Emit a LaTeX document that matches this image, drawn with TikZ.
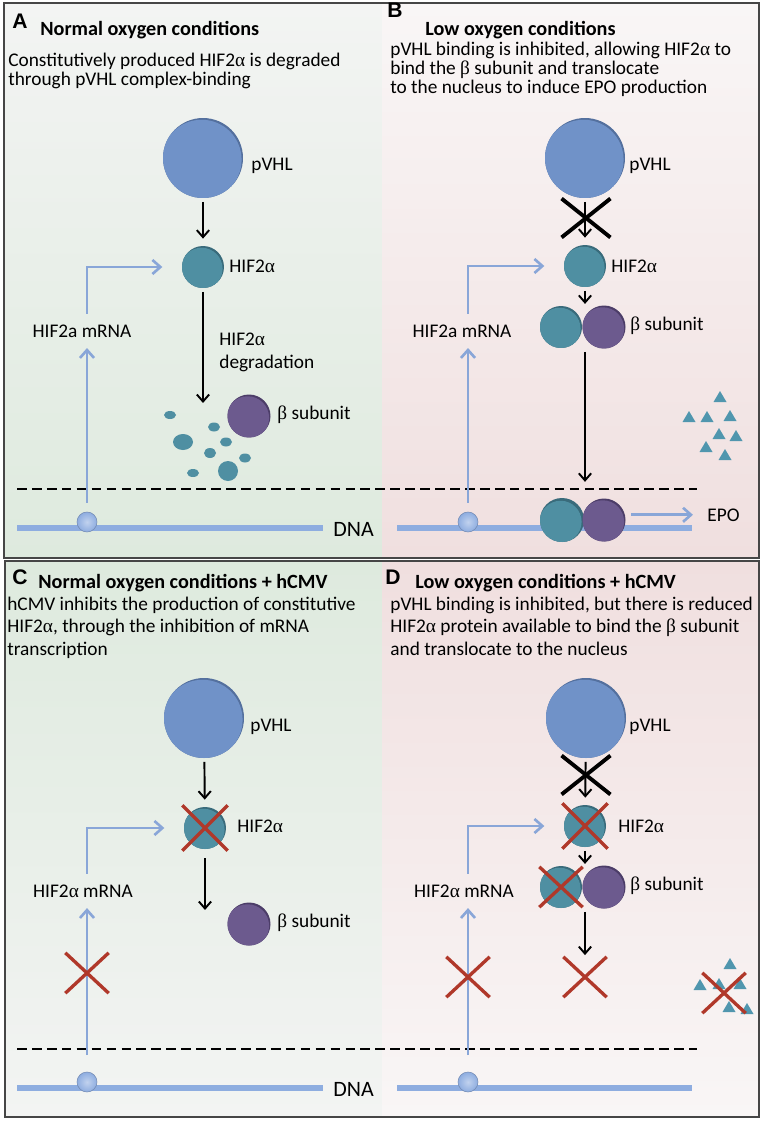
\documentclass[tikz,border=0pt]{standalone}
\usepackage{fontspec}
\setmainfont{Carlito}
\newfontfamily\panelfont{Liberation Sans}
\newfontfamily\greekfont{Liberation Serif}
\usepackage{tikz}
\usetikzlibrary{arrows.meta, positioning, calc, shapes.misc}
\newcommand{\galpha}{{\greekfont α}}
\newcommand{\gbeta}{{\greekfont β}}
\definecolor{pvhlblue}{HTML}{7092C8}
\definecolor{pvhledge}{HTML}{54709E}
\definecolor{hifteal}{HTML}{4F8FA2}
\definecolor{hifedge}{HTML}{396B7B}
\definecolor{betapurple}{HTML}{6C5A8E}
\definecolor{betaedge}{HTML}{4C3D68}
\definecolor{mrnablue}{HTML}{89A6D8}
\definecolor{dnablue}{HTML}{8EADE0}
\definecolor{knockred}{HTML}{B0382A}
\definecolor{epoteal}{HTML}{5096AE}
\definecolor{greentop}{RGB}{243,244,243}
\definecolor{greenbot}{RGB}{222,234,222}
\definecolor{pinktop}{RGB}{249,246,246}
\definecolor{pinkbot}{RGB}{240,223,223}
\definecolor{framegrey}{RGB}{70,70,70}

\begin{document}
\begin{tikzpicture}[x=0.02cm, y=-0.02cm,
    ball/.style n args={3}{circle, inner sep=0pt, minimum size=#1, fill=#3,
      path picture={\fill[#2] ([shift={(-0.8pt,-1pt)}]path picture bounding box.center) circle [radius=0.5*#1];}},
    pvhl/.style={ball={1.6cm}{pvhlblue}{pvhledge}},
    hif/.style={ball={0.84cm}{hifteal}{hifedge}},
    beta/.style={ball={0.86cm}{betapurple}{betaedge}},
    promoter/.style={circle, inner sep=0pt, minimum size=0.4cm, draw=dnablue!80!black, line width=0.3pt,
      inner color=dnablue!55!white, outer color=dnablue},
    letter/.style={font=\panelfont\bfseries\fontsize{12}{12}\selectfont, inner sep=0pt, anchor=base west},
    title/.style={font=\bfseries\fontsize{11.5}{13}\selectfont, inner sep=0pt, anchor=base west},
    body/.style={font=\fontsize{11}{11}\selectfont, align=left, inner sep=0pt, anchor=base west},
    bodywide/.style={body, font=\fontsize{11}{12.7}\selectfont},
    tag/.style={font=\fontsize{11}{13}\selectfont, inner sep=0pt, anchor=base west},
    bigtag/.style={tag, font=\fontsize{12.5}{14}\selectfont},
    mrnatag/.style={tag, anchor=base, inner ysep=6pt},
    blackarrow/.style={line width=1.1pt, -{Straight Barb[length=4pt, width=7pt]}, shorten <=2pt, shorten >=4pt},
    mrnaline/.style={mrnablue, line width=1.5pt},
    mrnaarrow/.style={mrnaline, -{Straight Barb[length=4.5pt, width=8pt]}},
    dnaline/.style={dnablue, line width=3.5pt},
    envelope/.style={line width=1.5pt, dash pattern=on 5.5pt off 3pt},
    blockx/.style={cross out, draw=black, line width=2.2pt, inner sep=0pt, minimum width=0.9cm, minimum height=0.7cm},
    redx/.style={cross out, draw=knockred, line width=1.9pt, inner sep=0pt, minimum width=0.8cm, minimum height=0.74cm},
    panelframe/.style={draw=framegrey, line width=0.8pt}]

  \useasboundingbox (0,0) rectangle (764,1125);
  \fill[white] (0,0) rectangle (764,1125);

  % panel backgrounds
  \shade[top color=greentop, bottom color=greenbot] (4,3) rectangle (382,558);
  \shade[top color=pinktop, bottom color=pinkbot] (382,3) rectangle (759,558);
  \shade[top color=greenbot, bottom color=greentop] (5,561) rectangle (382,1117);
  \shade[top color=pinkbot, bottom color=pinktop] (382,561) rectangle (759,1117);
  \draw[panelframe] (4,3) rectangle (759,558);
  \draw[panelframe] (5,561) rectangle (759,1117);

  % nuclear envelope
  \draw[envelope] (17,489) -- (697,489);
  \draw[envelope] (17,1049) -- (697,1049);

  % ---------- A ----------
  \node[letter] (letA) at (12,29) {A};
  \node[title] (titA) at (40,36) {Normal oxygen conditions};
  \node[body] (txtA) at (8,86) {Constitutively produced HIF2\galpha{} is degraded\\through pVHL complex-binding};
  \node[pvhl] (pvhlA) at (203,158) {};
  \node[tag] (pvhlAl) at (251,171) {pVHL};
  \node[hif] (hifA) at (203,267) {};
  \node[tag] (hifAl) at (229,272) {HIF2\galpha};
  \draw[blackarrow] (pvhlA) -- (hifA);
  \coordinate (degA) at (203,410);
  \draw[blackarrow] (hifA) -- (degA);
  \node[tag, align=left] (degAl) at (219,368) {HIF2\galpha\\degradation};
  \node[beta] (betaA) at (249,416) {};
  \node[tag] (betaAl) at (277,419) {\gbeta{} subunit};
  % degraded fragments
  \foreach \x/\y/\rx/\ry in {170/415/6/4, 214/427/6/4.5, 183/442/10/8, 226/442/6/4.5,
      210/453/6/5, 245/458/6/4.5, 193/473/6/4, 228/471/10/10}
    \fill[hifteal] (\x,\y) ellipse [x radius=\rx, y radius=\ry];
  \draw[dnaline] (17,528) -- (323,528);
  \node[promoter] (prA) at (87,522) {};
  \node[bigtag] (dnaA) at (333,536) {DNA};
  \node[mrnatag] (mrnaA) at (82,337) {HIF2a mRNA};
  \draw[mrnaarrow] ([yshift=5pt]prA.north) -- (prA |- mrnaA.south);
  \draw[mrnaarrow, shorten >=11pt] (prA |- mrnaA.north) |- (hifA.west);

  % ---------- B ----------
  \node[letter] (letB) at (387,18) {B};
  \node[title] (titB) at (425,36) {Low oxygen conditions};
  \node[body] (txtB) at (390,94) {pVHL binding is inhibited, allowing HIF2\galpha{} to\\bind the \gbeta{} subunit and translocate\\to the nucleus to induce EPO production};
  \node[pvhl] (pvhlB) at (585,158) {};
  \node[tag] (pvhlBl) at (629,171) {pVHL};
  \node[hif] (hifB) at (585,266) {};
  \node[tag] (hifBl) at (611,272) {HIF2\galpha};
  \draw[blackarrow] (pvhlB) -- (hifB);
  \node[blockx] (xB) at (586,218) {};
  \node[hif] (tealB) at (561,327) {};
  \node[beta] (purpB) at (604,327) {};
  \node[tag] (betaBl) at (630,330) {\gbeta{} subunit};
  \draw[blackarrow, shorten >=1pt] (hifB) -- (hifB |- tealB.north);
  \draw[dnaline] (397,528) -- (692,528);
  \node[promoter] (prB) at (468,522) {};
  \node[hif, minimum size=0.88cm] (tealN) at (562,520) {};
  \node[beta] (purpN) at (604,520) {};
  \draw[blackarrow, shorten >=9pt] (hifB |- tealB.south) -- (hifB |- tealN.north);
  \node[tag] (epoB) at (707,521) {EPO};
  \draw[mrnaarrow, shorten <=3pt, shorten >=8pt] (purpN.east |- epoB) -- (epoB.west);
  % EPO molecules
  \foreach \x/\y in {720/397, 689/417, 707/417, 730/416, 719/434, 736/436, 706/447, 725/455}
    \fill[epoteal] (\x-6.5,\y+5) -- (\x+6.5,\y+5) -- (\x,\y-6) -- cycle;
  \node[mrnatag] (mrnaB) at (462,337) {HIF2a mRNA};
  \draw[mrnaarrow] ([yshift=5pt]prB.north) -- (prB |- mrnaB.south);
  \draw[mrnaarrow, shorten >=11pt] (prB |- mrnaB.north) |- (hifB.west);

  % ---------- C ----------
  \node[letter] (letC) at (12,584) {C};
  \node[title] (titC) at (38,588) {Normal oxygen conditions + hCMV};
  \node[bodywide] (txtC) at (7,655) {hCMV inhibits the production of constitutive\\HIF2\galpha, through the inhibition of mRNA\\transcription};
  \node[pvhl] (pvhlC) at (204,718) {};
  \node[tag] (pvhlCl) at (250,731) {pVHL};
  \node[hif] (hifC) at (205,828) {};
  \node[redx, minimum width=0.84cm, minimum height=0.84cm] (xhifC) at (hifC) {};
  \node[tag] (hifCl) at (237,832) {HIF2\galpha};
  \draw[blackarrow] (pvhlC) -- (hifC);
  \coordinate (endC) at (205,917);
  \draw[blackarrow, shorten <=5pt] (hifC) -- (endC);
  \node[beta] (betaC) at (249,924) {};
  \node[tag] (betaCl) at (277,927) {\gbeta{} subunit};
  \draw[dnaline] (17,1088) -- (323,1088);
  \node[promoter] (prC) at (87,1082) {};
  \node[bigtag] (dnaC) at (333,1096) {DNA};
  \node[mrnatag] (mrnaC) at (83,897) {HIF2\galpha{} mRNA};
  \draw[mrnaarrow] ([yshift=9.5pt]prC.north) -- (prC |- mrnaC.south);
  \draw[mrnaarrow, shorten >=11pt] (prC |- mrnaC.north) |- (hifC.west);
  \node[redx] (xmrnaC) at (87,973) {};

  % ---------- D ----------
  \node[letter] (letD) at (385,584) {D};
  \node[title] (titD) at (415,588) {Low oxygen conditions + hCMV};
  \node[bodywide] (txtD) at (390,655) {pVHL binding is inhibited, but there is reduced\\HIF2\galpha{} protein available to bind the \gbeta{} subunit\\and translocate to the nucleus};
  \node[pvhl] (pvhlD) at (586,718) {};
  \node[tag] (pvhlDl) at (629,731) {pVHL};
  \node[hif] (hifD) at (585,826) {};
  \node[redx, minimum width=0.84cm, minimum height=0.84cm] (xhifD) at (hifD) {};
  \node[tag] (hifDl) at (618,832) {HIF2\galpha};
  \draw[blackarrow] (pvhlD) -- (hifD);
  \node[blockx] (xD) at (586,775) {};
  \node[hif] (tealD) at (561,887) {};
  \node[beta] (purpD) at (604,887) {};
  \node[redx] (xtealD) at (tealD) {};
  \node[tag] (betaDl) at (630,890) {\gbeta{} subunit};
  \draw[blackarrow, shorten >=1pt] (hifD) -- (hifD |- tealD.north);
  \node[redx] (xnucD) at (585,977) {};
  \draw[blackarrow, shorten >=1pt] (hifD |- tealD.south) -- (xnucD.north);
  % blocked EPO
  \foreach \x/\y in {730/964, 700/985, 719/984, 740/984, 729/1007, 747/1009}
    \fill[epoteal] (\x-6.5,\y+5) -- (\x+6.5,\y+5) -- (\x,\y-6) -- cycle;
  \node[redx] (xepoD) at (724,993) {};
  \draw[dnaline] (397,1088) -- (692,1088);
  \node[promoter] (prD) at (468,1082) {};
  \node[mrnatag] (mrnaD) at (464,897) {HIF2\galpha{} mRNA};
  \draw[mrnaarrow] ([yshift=9.5pt]prD.north) -- (prD |- mrnaD.south);
  \draw[mrnaarrow, shorten >=11pt] (prD |- mrnaD.north) |- (hifD.west);
  \node[redx] (xmrnaD) at (468,977) {};
\end{tikzpicture}
\end{document}
